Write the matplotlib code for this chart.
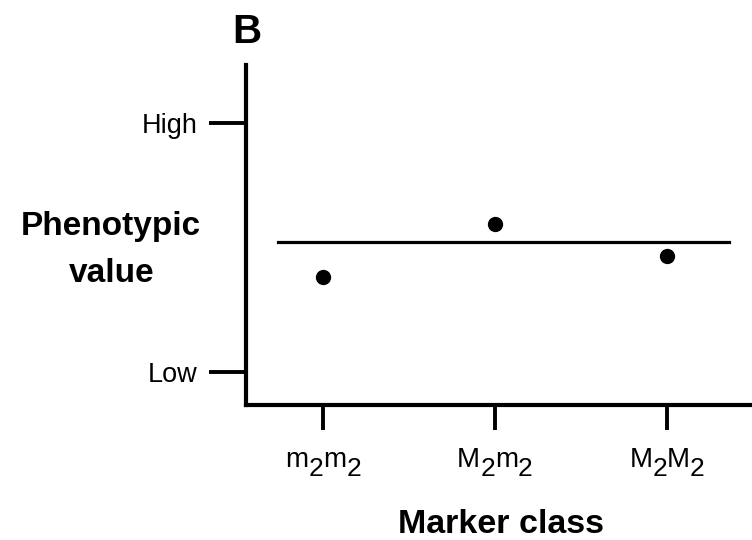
from matplotlib import pyplot as plt
from matplotlib.transforms import IdentityTransform

plt.rcParams['font.family'] = ['Liberation Sans', 'DejaVu Sans']

# tick labels: letters with subscript 2 (letter, subscript) pairs
classes = [[('m', '2'), ('m', '2')],
           [('M', '2'), ('m', '2')],
           [('M', '2'), ('M', '2')]]
xpos = [1, 2, 3]
values = [0.376, 0.532, 0.438]
mean_value = 0.479
ytick_pos = [0.097, 0.829]
ytick_labels = ['Low', 'High']

fig = plt.figure(figsize=(7.52, 5.4), dpi=100)
ax = fig.add_axes([246/752, 1-405/540, 1-246/752, 340/540])

ax.plot([0.74, 3.36], [mean_value, mean_value], color='black', linewidth=2.3)
ax.plot(xpos, values, 'o', color='black', markersize=10)

ax.set_xlim(0.552, 3.494)
ax.set_ylim(0, 1)
ax.set_xticks(xpos)
ax.set_xticklabels([])
ax.set_yticks(ytick_pos)
ax.set_yticklabels(ytick_labels, fontsize=19.5)
ax.tick_params(axis='y', length=27, width=2.8, pad=8)
ax.tick_params(axis='x', length=18, width=2.8)

for s in ['top', 'right']:
    ax.spines[s].set_visible(False)
for s in ['left', 'bottom']:
    ax.spines[s].set_linewidth(3)

# build the x tick labels piece by piece (subscript nearly full size)
renderer = fig.canvas.get_renderer()
big, small, drop = 20, 19, 9
base_y = 540 - 467
for xc, label in zip(xpos, classes):
    pieces = []
    for letter, sub in label:
        pieces.append((letter, big, 0))
        pieces.append((sub, small, -drop))
    texts = []
    widths = []
    for s, fs, dy in pieces:
        t = fig.text(0, 0, s, fontsize=fs, transform=IdentityTransform(),
                     ha='left', va='baseline')
        texts.append((t, dy))
        widths.append(t.get_window_extent(renderer).width)
    total = sum(widths)
    px = ax.transData.transform((xc, 0))[0] - total / 2
    for (t, dy), w in zip(texts, widths):
        t.set_position((px, base_y + dy))
        px += w

fig.text(111/752, 1-235/540, 'Phenotypic', fontsize=24, fontweight='bold',
         ha='center', va='baseline')
fig.text(112/752, 1-282/540, 'value', fontsize=24, fontweight='bold',
         ha='center', va='baseline')
fig.text(501/752, 1-533/540, 'Marker class', fontsize=24.5, fontweight='bold',
         ha='center', va='baseline')
fig.text(247/752, 1-43/540, 'B', fontsize=29, fontweight='bold',
         ha='center', va='baseline')

plt.savefig('out.png', dpi=100)
